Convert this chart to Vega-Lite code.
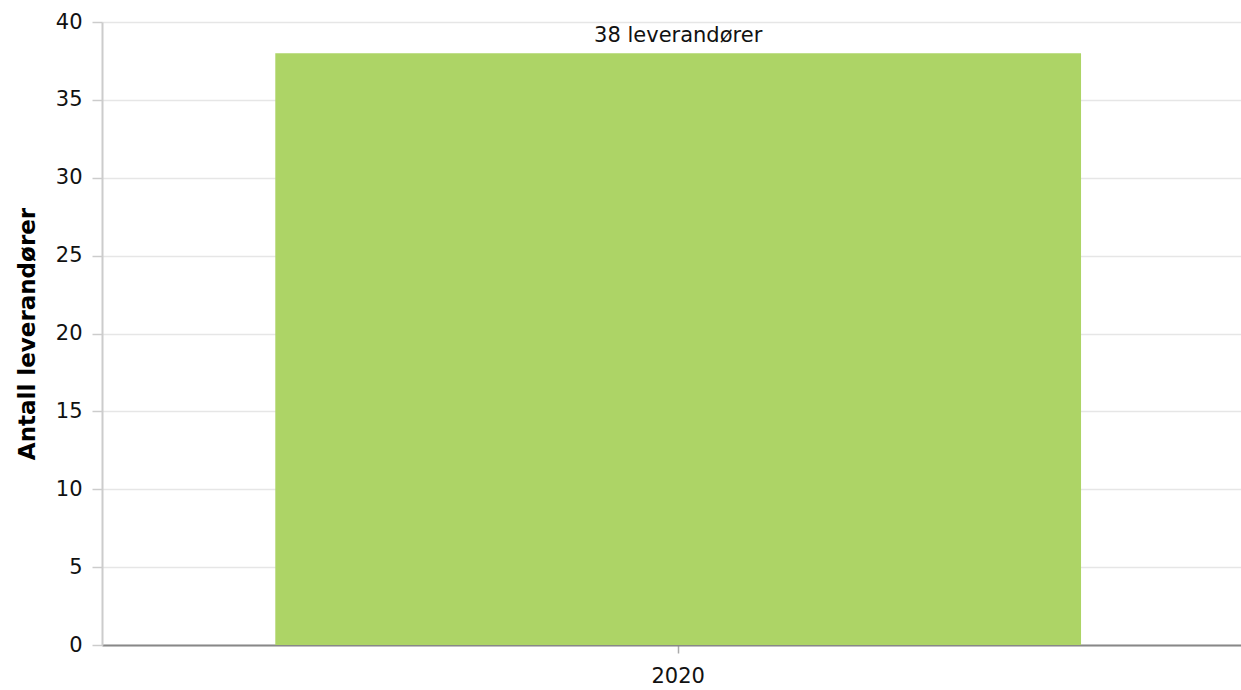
{
  "$schema": "https://vega.github.io/schema/vega-lite/v6.json",
  "autosize": {"type": "none"},
  "width": 1139,
  "height": 623,
  "padding": {"left": 102, "top": 22, "right": 0, "bottom": 45},
  "background": "white",
  "config": {
    "font": "DejaVu Sans",
    "view": {"stroke": null}
  },
  "data": {"values": [{"year": "2020", "antall": 38, "label": "38 leverandører"}]},
  "encoding": {
    "x": {
      "field": "year", "type": "nominal",
      "scale": {"paddingInner": 0, "paddingOuter": 0.2068, "align": 0.52},
      "axis": {
        "title": null, "labelAngle": 0, "labelFontSize": 21, "labelColor": "#111",
        "labelPadding": 12, "domainColor": "#888", "domainWidth": 2,
        "tickColor": "#aaa", "tickSize": 8, "tickWidth": 1.5, "grid": false
      }
    },
    "y": {
      "field": "antall", "type": "quantitative",
      "scale": {"domain": [0, 40]},
      "axis": {
        "title": "Antall leverandører", "titleFontSize": 23, "titleFontWeight": "bold",
        "titleColor": "#000", "titlePadding": 16,
        "values": [0, 5, 10, 15, 20, 25, 30, 35, 40],
        "labelFontSize": 21, "labelColor": "#111", "labelPadding": 10,
        "domainColor": "#ccc", "domainWidth": 2,
        "tickColor": "#ccc", "tickSize": 10, "tickWidth": 1.5,
        "gridColor": "#e6e6e6", "gridWidth": 1.5
      }
    }
  },
  "layer": [
    {"mark": {"type": "bar", "color": "#add466"}},
    {
      "mark": {"type": "text", "dy": -17, "fontSize": 21, "color": "#111"},
      "encoding": {"text": {"field": "label"}}
    }
  ]
}
